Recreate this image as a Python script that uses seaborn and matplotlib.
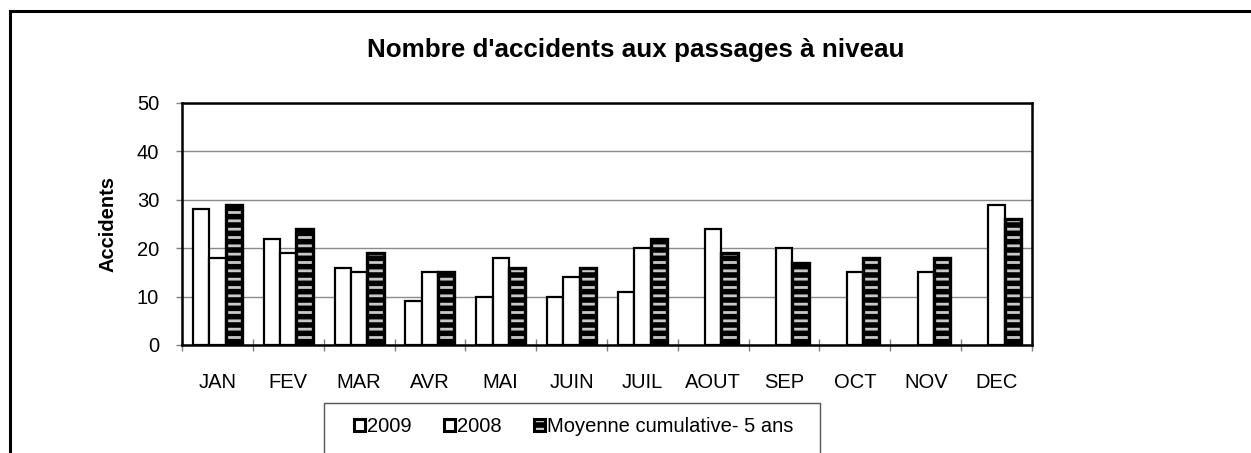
import numpy as np
import pandas as pd
import matplotlib
matplotlib.use("Agg")
import matplotlib.pyplot as plt
import matplotlib.colors as mcolors
import seaborn as sns
from matplotlib.patches import Rectangle

# ---- data ----
months = ["JAN", "FEV", "MAR", "AVR", "MAI", "JUIN", "JUIL", "AOUT", "SEP", "OCT", "NOV", "DEC"]
acc_2009 = [28, 22, 16, 9, 10, 10, 11, np.nan, np.nan, np.nan, np.nan, np.nan]
acc_2008 = [18, 19, 15, 15, 18, 14, 20, 24, 20, 15, 15, 29]
moy_5ans = [29, 24, 19, 15, 16, 16, 22, 19, 17, 18, 18, 26]
series = ["2009", "2008", "Moyenne cumulative- 5 ans"]
yticks = [0, 10, 20, 30, 40, 50]
title = "Nombre d'accidents aux passages à niveau"
ylabel = "Accidents"

sns.set_theme(style="white")
plt.rcParams["font.family"] = ["Liberation Sans", "DejaVu Sans"]
plt.rcParams["hatch.linewidth"] = 2.0
plt.rcParams["text.color"] = "black"
plt.rcParams["axes.labelcolor"] = "black"

df = pd.DataFrame({
    "mois": months * 3,
    "serie": [s for s in series for _ in months],
    "val": acc_2009 + acc_2008 + moy_5ans,
})

W, H = 1251, 453
fig = plt.figure(figsize=(W / 100, H / 100), dpi=100)
fig.patch.set_facecolor("white")
ax = fig.add_axes([182 / W, 1 - 345 / H, (1032 - 182) / W, (345 - 103) / H])

sns.barplot(data=df, x="mois", y="val", hue="serie", hue_order=series, order=months,
            palette=["white", "white", "white"], saturation=1, edgecolor="black",
            linewidth=1.6, width=0.69, errorbar=None, legend=False, ax=ax)

hatch_col = mcolors.to_rgba("#c8c8c8")
for p in ax.containers[2]:
    p.set_facecolor("black")
    p.set_hatch("--")
    p.set_linewidth(2.4)
    if hasattr(p, "set_hatchcolor"):
        p.set_hatchcolor(hatch_col)
    else:
        p._hatch_color = hatch_col

ax.set_ylim(0, 50)
ax.set_yticks(yticks)
ax.set_xlim(-0.5, len(months) - 0.5)
ax.set_xticks(range(len(months)))
ax.set_xticklabels(months)
ax.set_xticks(np.arange(-0.5, len(months), 1), minor=True)
ax.set_axisbelow(True)
ax.yaxis.grid(True, color="#8a8a8a", linewidth=1)
ax.xaxis.grid(False)
for s in ax.spines.values():
    s.set_visible(True)
    s.set_color("black")
    s.set_linewidth(1.8)

ax.tick_params(axis="x", which="major", bottom=True, length=0, pad=20, labelsize=14.5, labelcolor="black")
ax.tick_params(axis="x", which="minor", bottom=True, direction="inout", length=9, width=1, color="#808080")
ax.tick_params(axis="y", which="major", left=True, direction="out", length=4.5, width=1, color="#808080",
               pad=12, labelsize=14.5, labelcolor="black")
ax.set_xlabel("")
ax.set_ylabel(ylabel, fontsize=14.5, fontweight="bold", color="black")
ax.yaxis.set_label_coords((117 - 182) / 850, 0.5)

fig.text(636 / W, 1 - 50 / H, title, ha="center", va="center", fontsize=18.7,
         fontweight="bold", color="black")

# outer chart frame (right and bottom are cut off)
fig.add_artist(Rectangle((9.5 / W, -0.2), 1.2, 0.2 + 1 - 11 / H, transform=fig.transFigure,
                         fill=False, edgecolor="black", linewidth=2.2, clip_on=False))
# legend box (bottom cut off)
fig.add_artist(Rectangle((324 / W, -0.2), (820 - 324) / W, 0.2 + 1 - 403 / H, transform=fig.transFigure,
                         fill=False, edgecolor="#555555", linewidth=1.0, clip_on=False))

leg = fig.legend(handles=list(ax.containers), labels=series, loc="center",
                 bbox_to_anchor=(574 / W, 1 - 427 / H), ncol=3, frameon=False, fontsize=14.5,
                 handlelength=0.55, handleheight=0.55, handletextpad=0.1, columnspacing=1.6)
for t in leg.get_texts():
    t.set_color("black")
for h in leg.legend_handles:
    h.set_linewidth(2.2)

fig.savefig("out.png", dpi=100)
